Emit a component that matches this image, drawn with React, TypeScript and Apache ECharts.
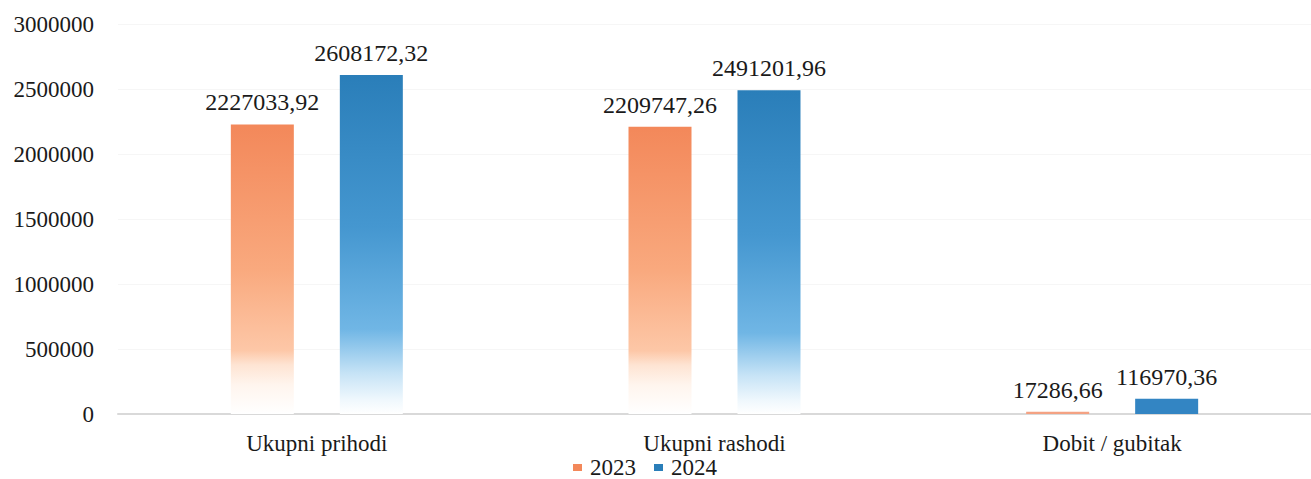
import React, { useEffect, useRef } from "react";
import * as echarts from "echarts";

const categories = ["Ukupni prihodi", "Ukupni rashodi", "Dobit / gubitak"];
const values2023 = [2227033.92, 2209747.26, 17286.66];
const values2024 = [2608172.32, 2491201.96, 116970.36];
const seriesNames = ["2023", "2024"];

const FONT = "Liberation Serif";

const orangeGrad = () =>
  new echarts.graphic.LinearGradient(0, 0, 0, 1, [
    { offset: 0, color: "#F3885A" },
    { offset: 0.5, color: "#F9A97E" },
    { offset: 0.78, color: "#FDC7A7" },
    { offset: 0.83, color: "#FEE4D3" },
    { offset: 0.9, color: "#FFF5EE" },
    { offset: 1, color: "#FFFFFF" },
  ]);
const blueGrad = () =>
  new echarts.graphic.LinearGradient(0, 0, 0, 1, [
    { offset: 0, color: "#2A7EB9" },
    { offset: 0.45, color: "#4597D0" },
    { offset: 0.75, color: "#70B6E5" },
    { offset: 0.88, color: "#C6E3F6" },
    { offset: 0.96, color: "#F0F8FD" },
    { offset: 1, color: "#FFFFFF" },
  ]);

const fmt = (v: number) => v.toFixed(2).replace(".", ",");

export default function App() {
  const ref = useRef<HTMLDivElement>(null);
  useEffect(() => {
    if (!ref.current) return;
    const chart = echarts.init(ref.current, undefined, { renderer: "svg" });
    const label = {
      show: true,
      position: "top" as const,
      distance: 10,
      fontFamily: FONT,
      fontSize: 24,
      color: "#1a1a1a",
      formatter: (p: any) => fmt(p.value),
    };
    chart.setOption({
      animation: false,
      backgroundColor: "#ffffff",
      textStyle: { fontFamily: FONT },
      grid: { left: 118, right: 0, top: 24, bottom: 65, containLabel: false },
      legend: {
        data: seriesNames,
        left: 573,
        top: 456,
        padding: 0,
        itemWidth: 9,
        itemHeight: 7,
        itemGap: 18,
        icon: "rect",
        textStyle: { fontFamily: FONT, fontSize: 23, color: "#1a1a1a", padding: [0, 0, 0, 3], lineHeight: 23 },
      },
      xAxis: {
        type: "category",
        data: categories,
        axisTick: { show: false },
        axisLine: { lineStyle: { color: "#D9D9D9", width: 2 } },
        axisLabel: { fontFamily: FONT, fontSize: 23, color: "#1a1a1a", margin: 18 },
      },
      yAxis: {
        type: "value",
        min: 0,
        max: 3000000,
        interval: 500000,
        axisLine: { show: false },
        axisTick: { show: false },
        splitLine: { lineStyle: { color: "#F6F6F6", width: 1 } },
        axisLabel: {
          fontFamily: FONT,
          fontSize: 23,
          color: "#1a1a1a",
          margin: 24,
          formatter: (v: number) => String(v),
        },
      },
      series: [
        {
          name: seriesNames[0],
          type: "bar",
          barWidth: 63,
          barGap: "73%",
          data: values2023.map((v, i) => ({
            value: v,
            itemStyle: { color: i < 2 ? orangeGrad() : "#F4A283" },
          })),
          itemStyle: { color: "#F3885A" },
          label,
        },
        {
          name: seriesNames[1],
          type: "bar",
          barWidth: 63,
          barGap: "73%",
          data: values2024.map((v, i) => ({
            value: v,
            itemStyle: { color: i < 2 ? blueGrad() : "#3385C3" },
          })),
          itemStyle: { color: "#2A7EB9" },
          label,
        },
      ],
    });
    return () => chart.dispose();
  }, []);
  return (
    <div
      ref={ref}
      style={{ position: "fixed", left: 0, top: 0, width: 1311, height: 479 }}
    />
  );
}
